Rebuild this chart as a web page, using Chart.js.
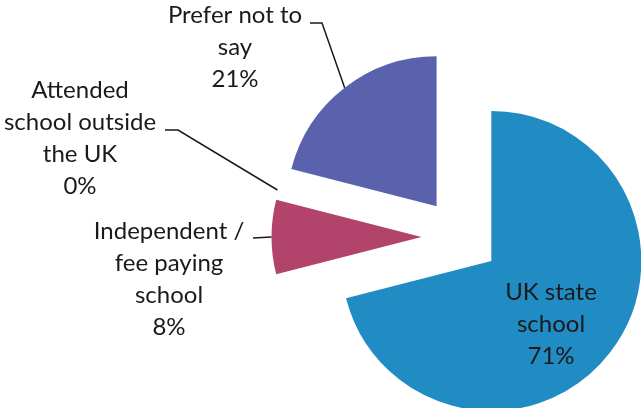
<!DOCTYPE html>
<html>
<head>
<meta charset="utf-8">
<script src="https://cdn.jsdelivr.net/npm/chart.js@4/dist/chart.umd.min.js"></script>
<style>
  html, body { margin: 0; padding: 0; background: #fff; }
  #wrap { position: relative; width: 641px; height: 408px; overflow: hidden; }
</style>
</head>
<body>
<div id="wrap"><canvas id="schoolChart"></canvas></div>
<script>
/* data */
const categories = ["UK state school", "Independent / fee paying school", "Attended school outside the UK", "Prefer not to say"];
const percentages = [71, 8, 0, 21];
const labelLines = [
  ["UK state", "school"],
  ["Independent /", "fee paying", "school"],
  ["Attended", "school outside", "the UK"],
  ["Prefer not to", "say"]
];

/* styles / layout */
const sliceColors = ["#218bc4", "#b2436a", "#7a9a3c", "#5a62ad"];
const explode = [39, 39, 39, 39];
const labelLayout = [
  { x: 551, y: 300 },
  { x: 169, y: 239, from: [253, 238] },
  { x: 80, y: 98, from: [165, 130], elbow: [178, 130] },
  { x: 235, y: 23, from: [310, 23], elbow: [322, 23] }
];
const labelFont = "24px Lato";
const lineGap = 32;

const explodePlugin = {
  id: "explode",
  beforeDatasetsDraw(chart) {
    const area = chart.chartArea;
    const cx = (area.left + area.right) / 2;
    const cy = (area.top + area.bottom) / 2;
    chart.getDatasetMeta(0).data.forEach(function (arc, i) {
      const mid = (arc.startAngle + arc.endAngle) / 2;
      arc.x = cx + Math.cos(mid) * explode[i];
      arc.y = cy + Math.sin(mid) * explode[i];
    });
  }
};

const labelPlugin = {
  id: "sliceLabels",
  afterDatasetsDraw(chart) {
    const ctx = chart.ctx;
    const arcs = chart.getDatasetMeta(0).data;
    ctx.save();
    ctx.font = labelFont;
    ctx.fillStyle = "#1a1a1a";
    ctx.textAlign = "center";
    ctx.textBaseline = "alphabetic";
    labelLines.forEach(function (lines, i) {
      const pos = labelLayout[i];
      const all = lines.concat([percentages[i] + "%"]);
      all.forEach(function (t, k) {
        ctx.fillText(t, pos.x, pos.y + k * lineGap);
      });
      if (pos.from) {
        const arc = arcs[i];
        const mid = (arc.startAngle + arc.endAngle) / 2;
        const ex = arc.x + Math.cos(mid) * arc.outerRadius;
        const ey = arc.y + Math.sin(mid) * arc.outerRadius;
        ctx.beginPath();
        ctx.strokeStyle = "#1a1a1a";
        ctx.lineWidth = 1.5;
        ctx.moveTo(pos.from[0], pos.from[1]);
        if (pos.elbow) ctx.lineTo(pos.elbow[0], pos.elbow[1]);
        ctx.lineTo(ex, ey);
        ctx.stroke();
      }
    });
    ctx.restore();
  }
};

const ctx = document.getElementById("schoolChart");
const chart = new Chart(ctx, {
  type: "pie",
  data: {
    labels: categories,
    datasets: [
      {
        data: percentages,
        backgroundColor: sliceColors,
        borderWidth: 0,
        radius: 150,
        clip: false
      }
    ]
  },
  options: {
    responsive: true,
    maintainAspectRatio: false,
    animation: false,
    events: [],
    layout: { padding: { left: 280, top: 66, right: 0, bottom: 0 } },
    plugins: {
      legend: { display: false },
      tooltip: { enabled: false }
    }
  },
  plugins: [explodePlugin, labelPlugin]
});
</script>
</body>
</html>
